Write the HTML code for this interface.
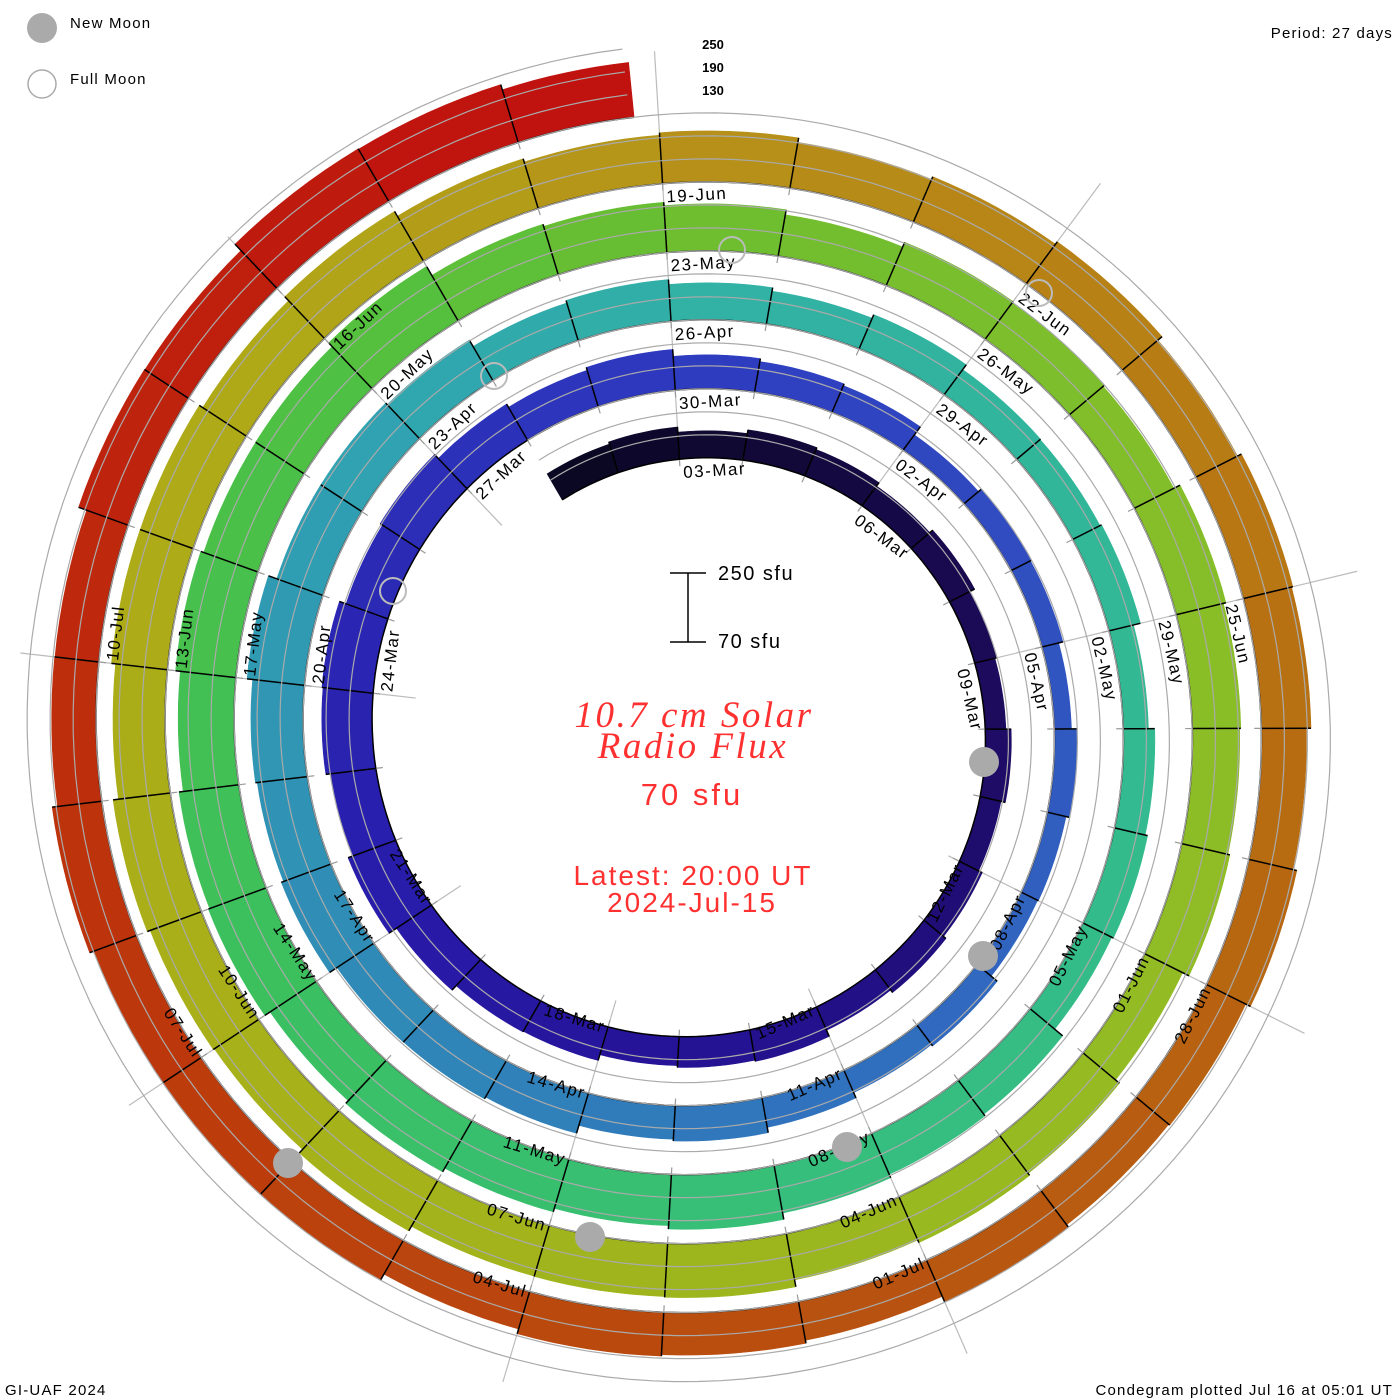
<!DOCTYPE html>
<html><head><meta charset="utf-8"><style>
html,body{margin:0;padding:0;background:#fff;}
svg{display:block;}
text{font-family:"Liberation Sans",sans-serif;}
</style></head><body>
<svg id="s" width="1400" height="1400" viewBox="0 0 1400 1400" xmlns="http://www.w3.org/2000/svg">
<rect width="1400" height="1400" fill="#fff"/>
<g id="spokes"></g>
<g id="bars"></g>
<g id="guides" fill="none" stroke="#aaa" stroke-width="1.2"></g>
<g id="ticks" stroke="#999" stroke-width="1.2"></g>
<g id="labels" font-size="17" letter-spacing="1.5" fill="#000"></g>
<g id="moons"></g>
<circle cx="42" cy="28" r="15" fill="#aaa"/>
<text x="70" y="28" font-size="15" letter-spacing="1.2">New Moon</text>
<circle cx="42" cy="84" r="14" fill="none" stroke="#aaa" stroke-width="1.5"/>
<text x="70" y="84" font-size="15" letter-spacing="1.2">Full Moon</text>
<text x="1393" y="38" font-size="15" letter-spacing="1.2" text-anchor="end">Period: 27 days</text>
<text x="5" y="1395" font-size="15" letter-spacing="1.2">GI-UAF 2024</text>
<text x="1393" y="1395" font-size="15" letter-spacing="1.2" text-anchor="end">Condegram plotted Jul 16 at 05:01 UT</text>
<text x="713" y="49" font-size="13" font-weight="bold" text-anchor="middle">250</text>
<text x="713" y="72" font-size="13" font-weight="bold" text-anchor="middle">190</text>
<text x="713" y="95" font-size="13" font-weight="bold" text-anchor="middle">130</text>
<g stroke="#000" stroke-width="1.5">
<line x1="688" y1="573" x2="688" y2="642"/>
<line x1="670" y1="573" x2="706" y2="573"/>
<line x1="670" y1="642" x2="706" y2="642"/>
</g>
<text x="718" y="580" font-size="20" letter-spacing="1.5">250 sfu</text>
<text x="718" y="648" font-size="20" letter-spacing="1.5">70 sfu</text>
<g fill="#ff3030" text-anchor="middle">
<text x="694" y="727" style="font-family:'Liberation Serif',serif;font-style:italic;font-size:37px;letter-spacing:2.5px">10.7 cm Solar</text>
<text x="693" y="758" style="font-family:'Liberation Serif',serif;font-style:italic;font-size:37px;letter-spacing:2.5px">Radio Flux</text>
<text x="692" y="805" font-size="31" letter-spacing="3">70 sfu</text>
<text x="693" y="885" font-size="28" letter-spacing="2">Latest: 20:00 UT</text>
<text x="692" y="912" font-size="28" letter-spacing="2">2024-Jul-15</text>
</g>
</svg>
<script>
(function(){
var NS="http://www.w3.org/2000/svg";
var cx=696,cy=730;
function R(A){return 272+0.1917*A;}
function ang(d){return -3.5+(d-2)*40/3;}
function P(r,A){var a=A*Math.PI/180;return [cx+r*Math.sin(a),cy-r*Math.cos(a)];}
function el(t,at,par){var e=document.createElementNS(NS,t);for(var k in at)e.setAttribute(k,at[k]);par.appendChild(e);return e;}
var hk=[[0,30],[2,30],[5,27],[8,22],[11,25],[14,30],[17,32],[20,48],[23,50],[26,42],[29,36],[32,22],[35,20],[38,20],[41,30],[44,40],[47,50],[50,55],[53,45],[56,37],[59,33],[62,28],[65,35],[68,50],[71,55],[74,60],[77,58],[80,60],[83,45],[86,45],[89,50],[92,45],[95,50],[98,55],[101,55],[104,55],[107,55],[110,48],[113,50],[116,49],[119,45],[122,42],[125,42],[128,48],[131,45],[134,60],[136,58]];
var ck=[[0,[10,8,32]],[8,[28,10,90]],[14,[34,16,138]],[20,[40,26,170]],[29,[46,58,192]],[35,[48,82,192]],[41,[48,112,190]],[47,[48,140,182]],[53,[48,164,176]],[56,[50,176,166]],[62,[50,184,150]],[68,[54,190,126]],[74,[58,192,96]],[80,[80,192,64]],[83,[108,190,48]],[89,[136,190,40]],[95,[154,184,32]],[101,[168,176,24]],[107,[176,168,24]],[110,[182,146,24]],[116,[184,116,18]],[122,[184,84,16]],[128,[188,58,12]],[136,[192,18,14]]];
function interp(arr,d){for(var i=0;i<arr.length-1;i++){if(d<=arr[i+1][0]){var f=(d-arr[i][0])/(arr[i+1][0]-arr[i][0]);return [arr[i],arr[i+1],f];}}var l=arr[arr.length-1];return [l,l,0];}
function H(d){var q=interp(hk,d);return q[0][1]+(q[1][1]-q[0][1])*q[2]+3*Math.sin(d*2.3);}
function C(d){var q=interp(ck,d);var c=[0,1,2].map(function(i){return Math.round(q[0][1][i]+(q[1][1][i]-q[0][1][i])*q[2]);});return "rgb("+c.join(",")+")";}
var bars=document.getElementById("bars");
var end=136.83;
for(var d=0;d<end;d+=1){
  var d2=Math.min(d+1,end);var h=H(d);
  var A1=ang(d),A2=ang(d2);var pts=[];var n=8;
  for(var i=0;i<=n;i++){var A=A1+(A2-A1)*i/n;pts.push(P(R(A),A));}
  for(var i=n;i>=0;i--){var A=A1+(A2-A1)*i/n;pts.push(P(R(A)+h,A));}
  el("polygon",{points:pts.map(function(p){return p[0].toFixed(1)+","+p[1].toFixed(1);}).join(" "),fill:C(d+0.5),stroke:C(d+0.5),"stroke-width":"0.6"},bars);
  var a=P(R(A1),A1),b=P(R(A1)+Math.max(h,H(d-1)),A1);
  if(d>0)el("line",{x1:a[0],y1:a[1],x2:b[0],y2:b[1],stroke:"#000","stroke-width":"1.5"},bars);
  var bl=[];for(var i=0;i<=n;i++){var A=A1+(A2-A1)*i/n;bl.push(P(R(A),A));}
  el("polyline",{points:bl.map(function(p){return p[0].toFixed(1)+","+p[1].toFixed(1);}).join(" "),fill:"none",stroke:"#000","stroke-width":"1.5"},bars);
}
var g=document.getElementById("guides");
[23,46,69].forEach(function(off){var pts=[];for(var A=ang(0);A<=ang(end);A+=2){pts.push(P(R(A)+off,A));}
 el("polyline",{points:pts.map(function(p){return p[0].toFixed(1)+","+p[1].toFixed(1);}).join(" ")},g);});
var sp=document.getElementById("spokes");
for(var k=0;k<9;k++){var A=-3.5+40*k;var a=P(282,A),b=P(680,A);
 el("line",{x1:a[0],y1:a[1],x2:b[0],y2:b[1],stroke:"#bbb","stroke-width":"1.2"},sp);}
var tk=document.getElementById("ticks");
for(var d=2;d<=136;d++){var A=ang(d);var a=P(R(A)-1,A),b=P(R(A)-7,A);el("line",{x1:a[0],y1:a[1],x2:b[0],y2:b[1]},tk);}
var months=[["Mar",31],["Apr",30],["May",31],["Jun",30],["Jul",31]];
function dname(d){var m=0;while(d>=months[m][1]){d-=months[m][1];m++;}var n=d+1;return (n<10?"0":"")+n+"-"+months[m][0];}
var lg=document.getElementById("labels");
for(var d=2;d<=131;d+=3){
  var A=ang(d);var r=R(A);var th=((A%360)+360)%360;
  var t;
  if(th>95&&th<265){var p=P(r-5,A);
    t=el("text",{x:p[0],y:p[1],transform:"rotate("+(A+180)+" "+p[0]+" "+p[1]+")","text-anchor":"end",dy:"12",dx:"-3"},lg);}
  else{var p=P(r-19,A);
    t=el("text",{x:p[0],y:p[1],transform:"rotate("+A+" "+p[0]+" "+p[1]+")",dx:"3"},lg);}
  t.textContent=dname(d);
}
var mg=document.getElementById("moons");
[[984,762],[983,956],[847,1147],[590,1237],[288,1163]].forEach(function(c){el("circle",{cx:c[0],cy:c[1],r:15,fill:"#aaa"},mg);});
[[393,591],[494,376],[732,250],[1039,293]].forEach(function(c){el("circle",{cx:c[0],cy:c[1],r:13,fill:"none",stroke:"#bbb","stroke-width":"2"},mg);});
})();
</script>
</body></html>
